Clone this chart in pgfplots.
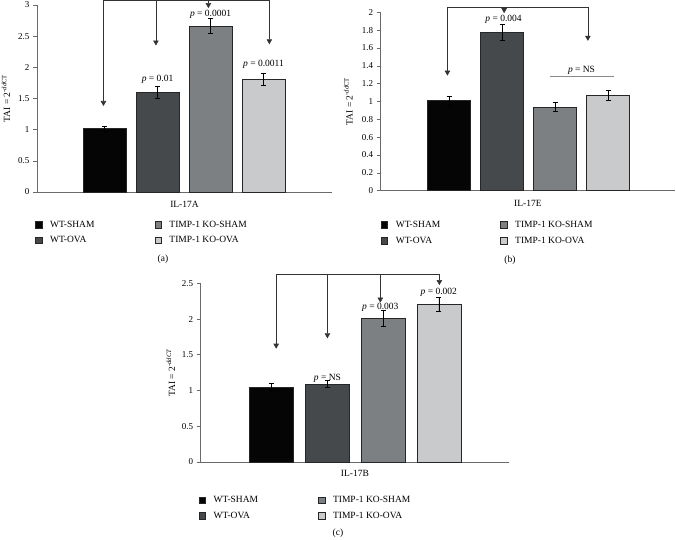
\documentclass[border=0pt]{standalone}
\usepackage{pgfplots}
\pgfplotsset{compat=1.18}
\usepackage{fontspec}
\setmainfont{Liberation Serif}
\usetikzlibrary{arrows.meta}
\definecolor{cA}{HTML}{050505}
\definecolor{cB}{HTML}{46494C}
\definecolor{cC}{HTML}{7D8083}
\definecolor{cD}{HTML}{C9CACC}
\definecolor{axc}{HTML}{6A6A6A}
\definecolor{nsc}{HTML}{8A8A8A}

\pgfplotsset{
 panel/.style={
  scale only axis, axis lines=left, axis line style={axc, line width=0.8pt, -},
  xtick=\empty, ymin=0, clip=false, tick align=outside, major tick length=4pt,
  ytick style={axc, line width=0.6pt},
  y tick label style={font=\fontsize{9}{10}\selectfont, /pgf/number format/assume math mode=true},
  label style={font=\fontsize{9.5}{11}\selectfont},
  legend columns=2, legend cell align=left,
  legend style={draw=none, fill=none, font=\fontsize{9.5}{11}\selectfont, anchor=north west, inner sep=0pt, row sep=4pt,
    /tikz/every odd column/.append style={column sep=6pt},
    /tikz/every even column/.append style={column sep=58pt}},
 },
 bb/.style={ybar, bar shift=0pt, draw=black!85, line width=0.5pt,
  error bars/y dir=both, error bars/y explicit,
  error bars/error bar style={black, line width=0.6pt},
  error bars/error mark options={rotate=90, black, mark size=2.5pt, line width=0.6pt},
  legend image code/.code={\draw[##1, draw=black!85, line width=0.5pt] (0pt,-3.2pt) rectangle (6.4pt,3.2pt);}},
}
\tikzset{
 arr/.style={black!80, line width=0.6pt, -{Triangle[width=5.5pt,length=5pt]}},
 plab/.style={font=\fontsize{9.5}{11}\selectfont},
}

\begin{document}
\begin{tikzpicture}
\path[use as bounding box] (0pt,0pt) rectangle (676pt,539pt);

% ---------------- (a) IL-17A
\begin{axis}[panel, at={(37pt,347pt)}, anchor=south west, width=295pt, height=187pt,
  xmin=-0.274, xmax=5.292, ymax=3, ytick={0,0.5,1,1.5,2,2.5,3},
  xlabel={IL-17A}, ylabel={TAI = 2\textsuperscript{-\textit{dd}CT}},
  xlabel style={at={(axis description cs:0.5,-0.064)}, anchor=center},
  ylabel style={at={(axis description cs:-0.105,0.5)}, anchor=center},
  legend style={at={(axis description cs:-0.007,-0.142)}}]
\addplot[bb, bar width=0.81, fill=cA] coordinates {(1,1.02) +- (0,0.04)};
\addlegendentry{WT-SHAM}
\addplot[bb, bar width=0.81, fill=cC] coordinates {(3,2.66) +- (0,0.12)};
\addlegendentry{TIMP-1 KO-SHAM}
\addplot[bb, bar width=0.81, fill=cB] coordinates {(2,1.60) +- (0,0.09)};
\addlegendentry{WT-OVA}
\addplot[bb, bar width=0.81, fill=cD] coordinates {(4,1.81) +- (0,0.10)};
\addlegendentry{TIMP-1 KO-OVA}
\draw[black!80, line width=0.6pt] (axis cs:0.98,3.08) -- (axis cs:4.11,3.08);
\draw[arr] (axis cs:0.98,3.08) -- (axis cs:0.98,1.38);
\draw[arr] (axis cs:1.97,3.08) -- (axis cs:1.97,2.35);
\draw[arr] (axis cs:2.96,3.08) -- (axis cs:2.96,2.95);
\draw[arr] (axis cs:4.11,3.08) -- (axis cs:4.11,2.37);
\node[plab] at (axis cs:2,1.80) {\textit{p} = 0.01};
\node[plab] at (axis cs:3,2.85) {\textit{p} = 0.0001};
\node[plab] at (axis cs:4,2.05) {\textit{p} = 0.0011};
\end{axis}
\node[font=\fontsize{9.5}{11}\selectfont] at (163pt,280pt) {(a)};

% ---------------- (b) IL-17E
\begin{axis}[panel, at={(380.7pt,348.3pt)}, anchor=south west, width=294.3pt, height=178.4pt,
  xmin=-0.289, xmax=5.264, ymax=2, ytick={0,0.2,0.4,0.6,0.8,1,1.2,1.4,1.6,1.8,2},
  xlabel={IL-17E}, ylabel={TAI = 2\textsuperscript{-\textit{dd}CT}},
  xlabel style={at={(axis description cs:0.5,-0.069)}, anchor=center},
  ylabel style={at={(axis description cs:-0.110,0.5)}, anchor=center},
  legend style={at={(axis description cs:0.0,-0.1575)}}]
\addplot[bb, bar width=0.81, fill=cA] coordinates {(1,1.01) +- (0,0.05)};
\addlegendentry{WT-SHAM}
\addplot[bb, bar width=0.81, fill=cC] coordinates {(3,0.94) +- (0,0.05)};
\addlegendentry{TIMP-1 KO-SHAM}
\addplot[bb, bar width=0.81, fill=cB] coordinates {(2,1.78) +- (0,0.09)};
\addlegendentry{WT-OVA}
\addplot[bb, bar width=0.81, fill=cD] coordinates {(4,1.065) +- (0,0.055)};
\addlegendentry{TIMP-1 KO-OVA}
\draw[black!80, line width=0.6pt] (axis cs:0.97,2.056) -- (axis cs:3.62,2.056);
\draw[arr] (axis cs:0.97,2.056) -- (axis cs:0.97,1.29);
\draw[arr] (axis cs:2.04,2.056) -- (axis cs:2.04,1.99);
\draw[arr] (axis cs:3.62,2.056) -- (axis cs:3.62,1.68);
\draw[nsc, line width=1pt] (axis cs:2.9,1.28) -- (axis cs:4.11,1.28);
\node[plab] at (axis cs:2.03,1.92) {\textit{p} = 0.004};
\node[plab] at (axis cs:3.5,1.35) {\textit{p} = NS};
\end{axis}
\node[font=\fontsize{9.5}{11}\selectfont] at (510pt,279pt) {(b)};

% ---------------- (c) IL-17B
\begin{axis}[panel, at={(200.7pt,77pt)}, anchor=south west, width=308.3pt, height=178.7pt,
  xmin=-0.275, xmax=5.26, ymax=2.5, ytick={0,0.5,1,1.5,2,2.5},
  xlabel={IL-17B}, ylabel={TAI = 2\textsuperscript{-\textit{ddCT}}},
  xlabel style={at={(axis description cs:0.5,-0.0616)}, anchor=center},
  ylabel style={at={(axis description cs:-0.097,0.5)}, anchor=center},
  legend style={at={(axis description cs:-0.007,-0.179)}}]
\addplot[bb, bar width=0.79, fill=cA] coordinates {(1,1.05) +- (0,0.05)};
\addlegendentry{WT-SHAM}
\addplot[bb, bar width=0.79, fill=cC] coordinates {(3,2.01) +- (0,0.11)};
\addlegendentry{TIMP-1 KO-SHAM}
\addplot[bb, bar width=0.79, fill=cB] coordinates {(2,1.09) +- (0,0.05)};
\addlegendentry{WT-OVA}
\addplot[bb, bar width=0.79, fill=cD] coordinates {(4,2.21) +- (0,0.10)};
\addlegendentry{TIMP-1 KO-OVA}
\draw[black!80, line width=0.6pt] (axis cs:1.08,2.625) -- (axis cs:4.01,2.625);
\draw[arr] (axis cs:1.08,2.625) -- (axis cs:1.08,1.585);
\draw[arr] (axis cs:2.0,2.625) -- (axis cs:2.0,1.73);
\draw[arr] (axis cs:2.95,2.625) -- (axis cs:2.95,2.23);
\draw[arr] (axis cs:4.01,2.625) -- (axis cs:4.01,2.475);
\node[plab] at (axis cs:2,1.17) {\textit{p} = NS};
\node[plab] at (axis cs:2.95,2.16) {\textit{p} = 0.003};
\node[plab] at (axis cs:4,2.38) {\textit{p} = 0.002};
\end{axis}
\node[font=\fontsize{9.5}{11}\selectfont] at (338pt,6pt) {(c)};
\end{tikzpicture}
\end{document}
